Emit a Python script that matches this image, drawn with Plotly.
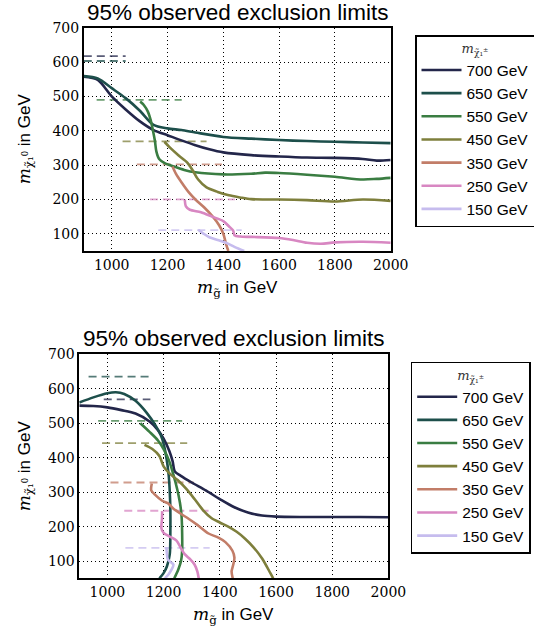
import plotly.graph_objects as go

# ---------------- data ----------------
series_labels = ["700 GeV", "650 GeV", "550 GeV", "450 GeV", "350 GeV", "250 GeV", "150 GeV"]
series_colors = ["#23264a", "#1d4f4b", "#3a7d42", "#7e7f3c", "#c27d68", "#d887c2", "#c6bcee"]

# top panel solid curves
top_x_700 = [900, 950, 1000, 1050, 1100, 1150, 1200, 1250, 1300, 1350, 1400, 1500, 1600, 1700, 1800, 1900, 1950, 2000]
top_y_700 = [557, 548, 500, 462, 428, 402, 387, 372, 358, 346, 337, 329, 325, 322, 321, 318, 313, 315]
top_x_650 = [900, 950, 1000, 1050, 1100, 1150, 1200, 1250, 1300, 1400, 1500, 1600, 1700, 1800, 1900, 2000]
top_y_650 = [559, 552, 524, 495, 459, 417, 407, 402, 395, 382, 377, 373, 370, 368, 366, 364]
top_x_550 = [1102, 1115, 1130, 1140, 1148, 1155, 1160, 1170, 1190, 1220, 1260, 1300, 1400, 1500, 1550, 1600, 1700, 1800, 1900, 1950, 2000]
top_y_550 = [485, 475, 455, 430, 400, 370, 340, 318, 306, 297, 286, 279, 273, 275, 278, 277, 272, 266, 258, 260, 263]
top_x_450 = [1189, 1210, 1240, 1270, 1290, 1310, 1340, 1380, 1420, 1460, 1500, 1550, 1600, 1700, 1800, 1900, 2000]
top_y_450 = [368, 350, 328, 308, 285, 258, 235, 222, 212, 206, 201, 200, 200, 198, 194, 200, 196]
top_x_350 = [1218, 1230, 1250, 1275, 1300, 1330, 1360, 1385, 1400, 1410, 1418]
top_y_350 = [296, 275, 250, 222, 200, 178, 152, 125, 100, 70, 50]
top_x_250 = [1262, 1266, 1280, 1320, 1360, 1400, 1420, 1435, 1440, 1460, 1500, 1600, 1650, 1700, 1750, 1800, 1900, 2000]
top_y_250 = [200, 180, 170, 163, 150, 137, 122, 110, 96, 92, 91, 88, 82, 74, 71, 75, 77, 74]
top_x_150 = [1310, 1330, 1350, 1380, 1410, 1440, 1475]
top_y_150 = [112, 100, 90, 82, 74, 62, 50]

# top panel dashed reference lines (level, x start, x end)
top_dash_level = [617, 603, 490, 369, 302, 200, 111]
top_dash_x0 = [900, 900, 946, 1039, 1090, 1137, 1167]
top_dash_x1 = [1050, 1050, 1251, 1340, 1395, 1442, 1466]

# bottom panel solid curves
bot_x_700 = [900, 950, 1000, 1050, 1100, 1150, 1180, 1200, 1220, 1232, 1240, 1260, 1300, 1350, 1400, 1450, 1500, 1550, 1600, 1700, 1800, 1900, 2000]
bot_y_700 = [551, 550, 546, 538, 528, 505, 480, 455, 420, 390, 360, 348, 328, 305, 280, 257, 241, 232, 229, 228, 228, 228, 227]
bot_x_650 = [900, 950, 1000, 1030, 1060, 1100, 1140, 1170, 1195, 1210, 1218, 1222, 1224, 1224, 1222, 1212, 1200, 1185]
bot_y_650 = [560, 575, 587, 590, 585, 565, 530, 495, 455, 400, 350, 300, 250, 180, 120, 85, 65, 50]
bot_x_550 = [1117, 1150, 1180, 1200, 1220, 1235, 1248, 1258, 1264, 1266, 1266, 1262, 1252, 1238]
bot_y_550 = [500, 475, 450, 425, 390, 350, 310, 270, 230, 180, 130, 100, 75, 50]
bot_x_450 = [1132, 1160, 1185, 1200, 1220, 1250, 1280, 1310, 1340, 1370, 1400, 1430, 1460, 1490, 1520, 1550, 1580, 1590]
bot_y_450 = [437, 425, 405, 375, 355, 335, 310, 280, 248, 225, 212, 200, 185, 165, 140, 108, 65, 50]
bot_x_350 = [1158, 1156, 1170, 1195, 1215, 1235, 1260, 1290, 1320, 1360, 1395, 1420, 1445, 1452, 1448, 1442, 1446]
bot_y_350 = [325, 305, 292, 275, 268, 252, 238, 222, 205, 180, 168, 155, 130, 110, 90, 70, 50]
bot_x_250 = [1195, 1194, 1192, 1200, 1220, 1245, 1260, 1275, 1295, 1310, 1320, 1325]
bot_y_250 = [245, 220, 195, 182, 172, 160, 140, 120, 105, 90, 70, 50]
bot_x_150 = [1210, 1212, 1215, 1225, 1235, 1228, 1218, 1205]
bot_y_150 = [140, 120, 105, 97, 90, 75, 62, 50]

# bottom panel dashed reference lines
bot_dash_level = [569, 635, 507, 442, 328, 246, 138]
bot_dash_x0 = [987, 933, 967, 981, 1011, 1060, 1064]
bot_dash_x1 = [1153, 1161, 1266, 1284, 1307, 1360, 1364]

x_ticks = [1000, 1200, 1400, 1600, 1800, 2000]
y_ticks = [100, 200, 300, 400, 500, 600, 700]
title_text = "95% observed exclusion limits"

top_x = [top_x_700, top_x_650, top_x_550, top_x_450, top_x_350, top_x_250, top_x_150]
top_y = [top_y_700, top_y_650, top_y_550, top_y_450, top_y_350, top_y_250, top_y_150]
bot_x = [bot_x_700, bot_x_650, bot_x_550, bot_x_450, bot_x_350, bot_x_250, bot_x_150]
bot_y = [bot_y_700, bot_y_650, bot_y_550, bot_y_450, bot_y_350, bot_y_250, bot_y_150]

W, H = 534, 635
SERIF = "DejaVu Serif"
SANS = "Liberation Sans"

fig = go.Figure()


def add_panel(xs, ys, dlev, dx0, dx1, xa, ya, legend):
    # dashed lines first (under)
    for i in range(len(series_labels)):
        fig.add_trace(go.Scatter(
            x=[dx0[i], dx1[i]], y=[dlev[i], dlev[i]], mode="lines",
            line=dict(color=series_colors[i], width=1.8, dash="8px,5px"),
            opacity=0.75, showlegend=False, hoverinfo="skip",
            xaxis=xa, yaxis=ya))
    for i in range(len(series_labels)):
        fig.add_trace(go.Scatter(
            x=xs[i], y=ys[i], mode="lines", name=series_labels[i],
            line=dict(color=series_colors[i], width=2.6, shape="spline", smoothing=0.8),
            xaxis=xa, yaxis=ya, legend=legend))


add_panel(top_x, top_y, top_dash_level, top_dash_x0, top_dash_x1, "x", "y", "legend")
add_panel(bot_x, bot_y, bot_dash_level, bot_dash_x0, bot_dash_x1, "x2", "y2", "legend2")

axis_common = dict(
    showline=True, mirror=True, linecolor="black", linewidth=1.6,
    showgrid=True, gridcolor="black", gridwidth=1, griddash="1px,3px",
    zeroline=False, ticks="", tickfont=dict(family=SERIF, size=14, color="black"),
)

top_dom_x = [83.8 / W, 390.7 / W]
bot_dom_x = [79.3 / W, 388.4 / W]
top_dom_y = [1 - 251 / H, 1 - 27.7 / H]
bot_dom_y = [1 - 578.3 / H, 1 - 354.3 / H]

fig.update_layout(
    width=W, height=H, margin=dict(l=0, r=0, t=0, b=0, autoexpand=False),
    plot_bgcolor="white", paper_bgcolor="white",
    showlegend=True,
    xaxis=dict(domain=top_dom_x, range=[900, 2000], tickvals=x_ticks, anchor="y", **axis_common),
    yaxis=dict(domain=top_dom_y, range=[50, 700], tickvals=y_ticks, anchor="x", **axis_common),
    xaxis2=dict(domain=bot_dom_x, range=[900, 2000], tickvals=x_ticks, anchor="y2", **axis_common),
    yaxis2=dict(domain=bot_dom_y, range=[50, 700], tickvals=y_ticks, anchor="x2", **axis_common),
)

leg_common = dict(
    xanchor="left", yanchor="top", bgcolor="white",
    bordercolor="black", borderwidth=1.5,
    font=dict(family=SANS, size=15.5, color="black"),
    title=dict(text="<i>m</i><sub>χ̃₁<sup>±</sup></sub>", side="top center",
               font=dict(family=SERIF, size=13, color="#333")),
    itemwidth=40, tracegroupgap=0,
)
fig.update_layout(
    legend=dict(x=415 / W, y=1 - 35 / H, **leg_common),
    legend2=dict(x=410.7 / W, y=1 - 361.7 / H, **leg_common),
)

ylab = ("<span style='font-family:DejaVu Serif'><i>m</i><sub>χ̃₁<sup>0</sup></sub></span> in GeV")
xlab = ("<span style='font-family:DejaVu Serif'><i>m</i><sub>g̃</sub></span> in GeV")

for dx, dy in [(top_dom_x, top_dom_y), (bot_dom_x, bot_dom_y)]:
    fig.add_annotation(text=title_text, xref="paper", yref="paper",
                       x=(dx[0] + dx[1]) / 2, y=dy[1] + 1 / H, xanchor="center", yanchor="bottom",
                       showarrow=False, font=dict(family=SANS, size=22.5, color="black"))
    fig.add_annotation(text=xlab, xref="paper", yref="paper",
                       x=(dx[0] + dx[1]) / 2, y=dy[0] - 24 / H, xanchor="center", yanchor="top",
                       showarrow=False, font=dict(family=SANS, size=17, color="black"))
    fig.add_annotation(text=ylab, xref="paper", yref="paper", textangle=-90,
                       x=25 / W, y=(dy[0] + dy[1]) / 2, xanchor="center", yanchor="middle",
                       showarrow=False, font=dict(family=SANS, size=17, color="black"))

fig.write_html("out.html")
